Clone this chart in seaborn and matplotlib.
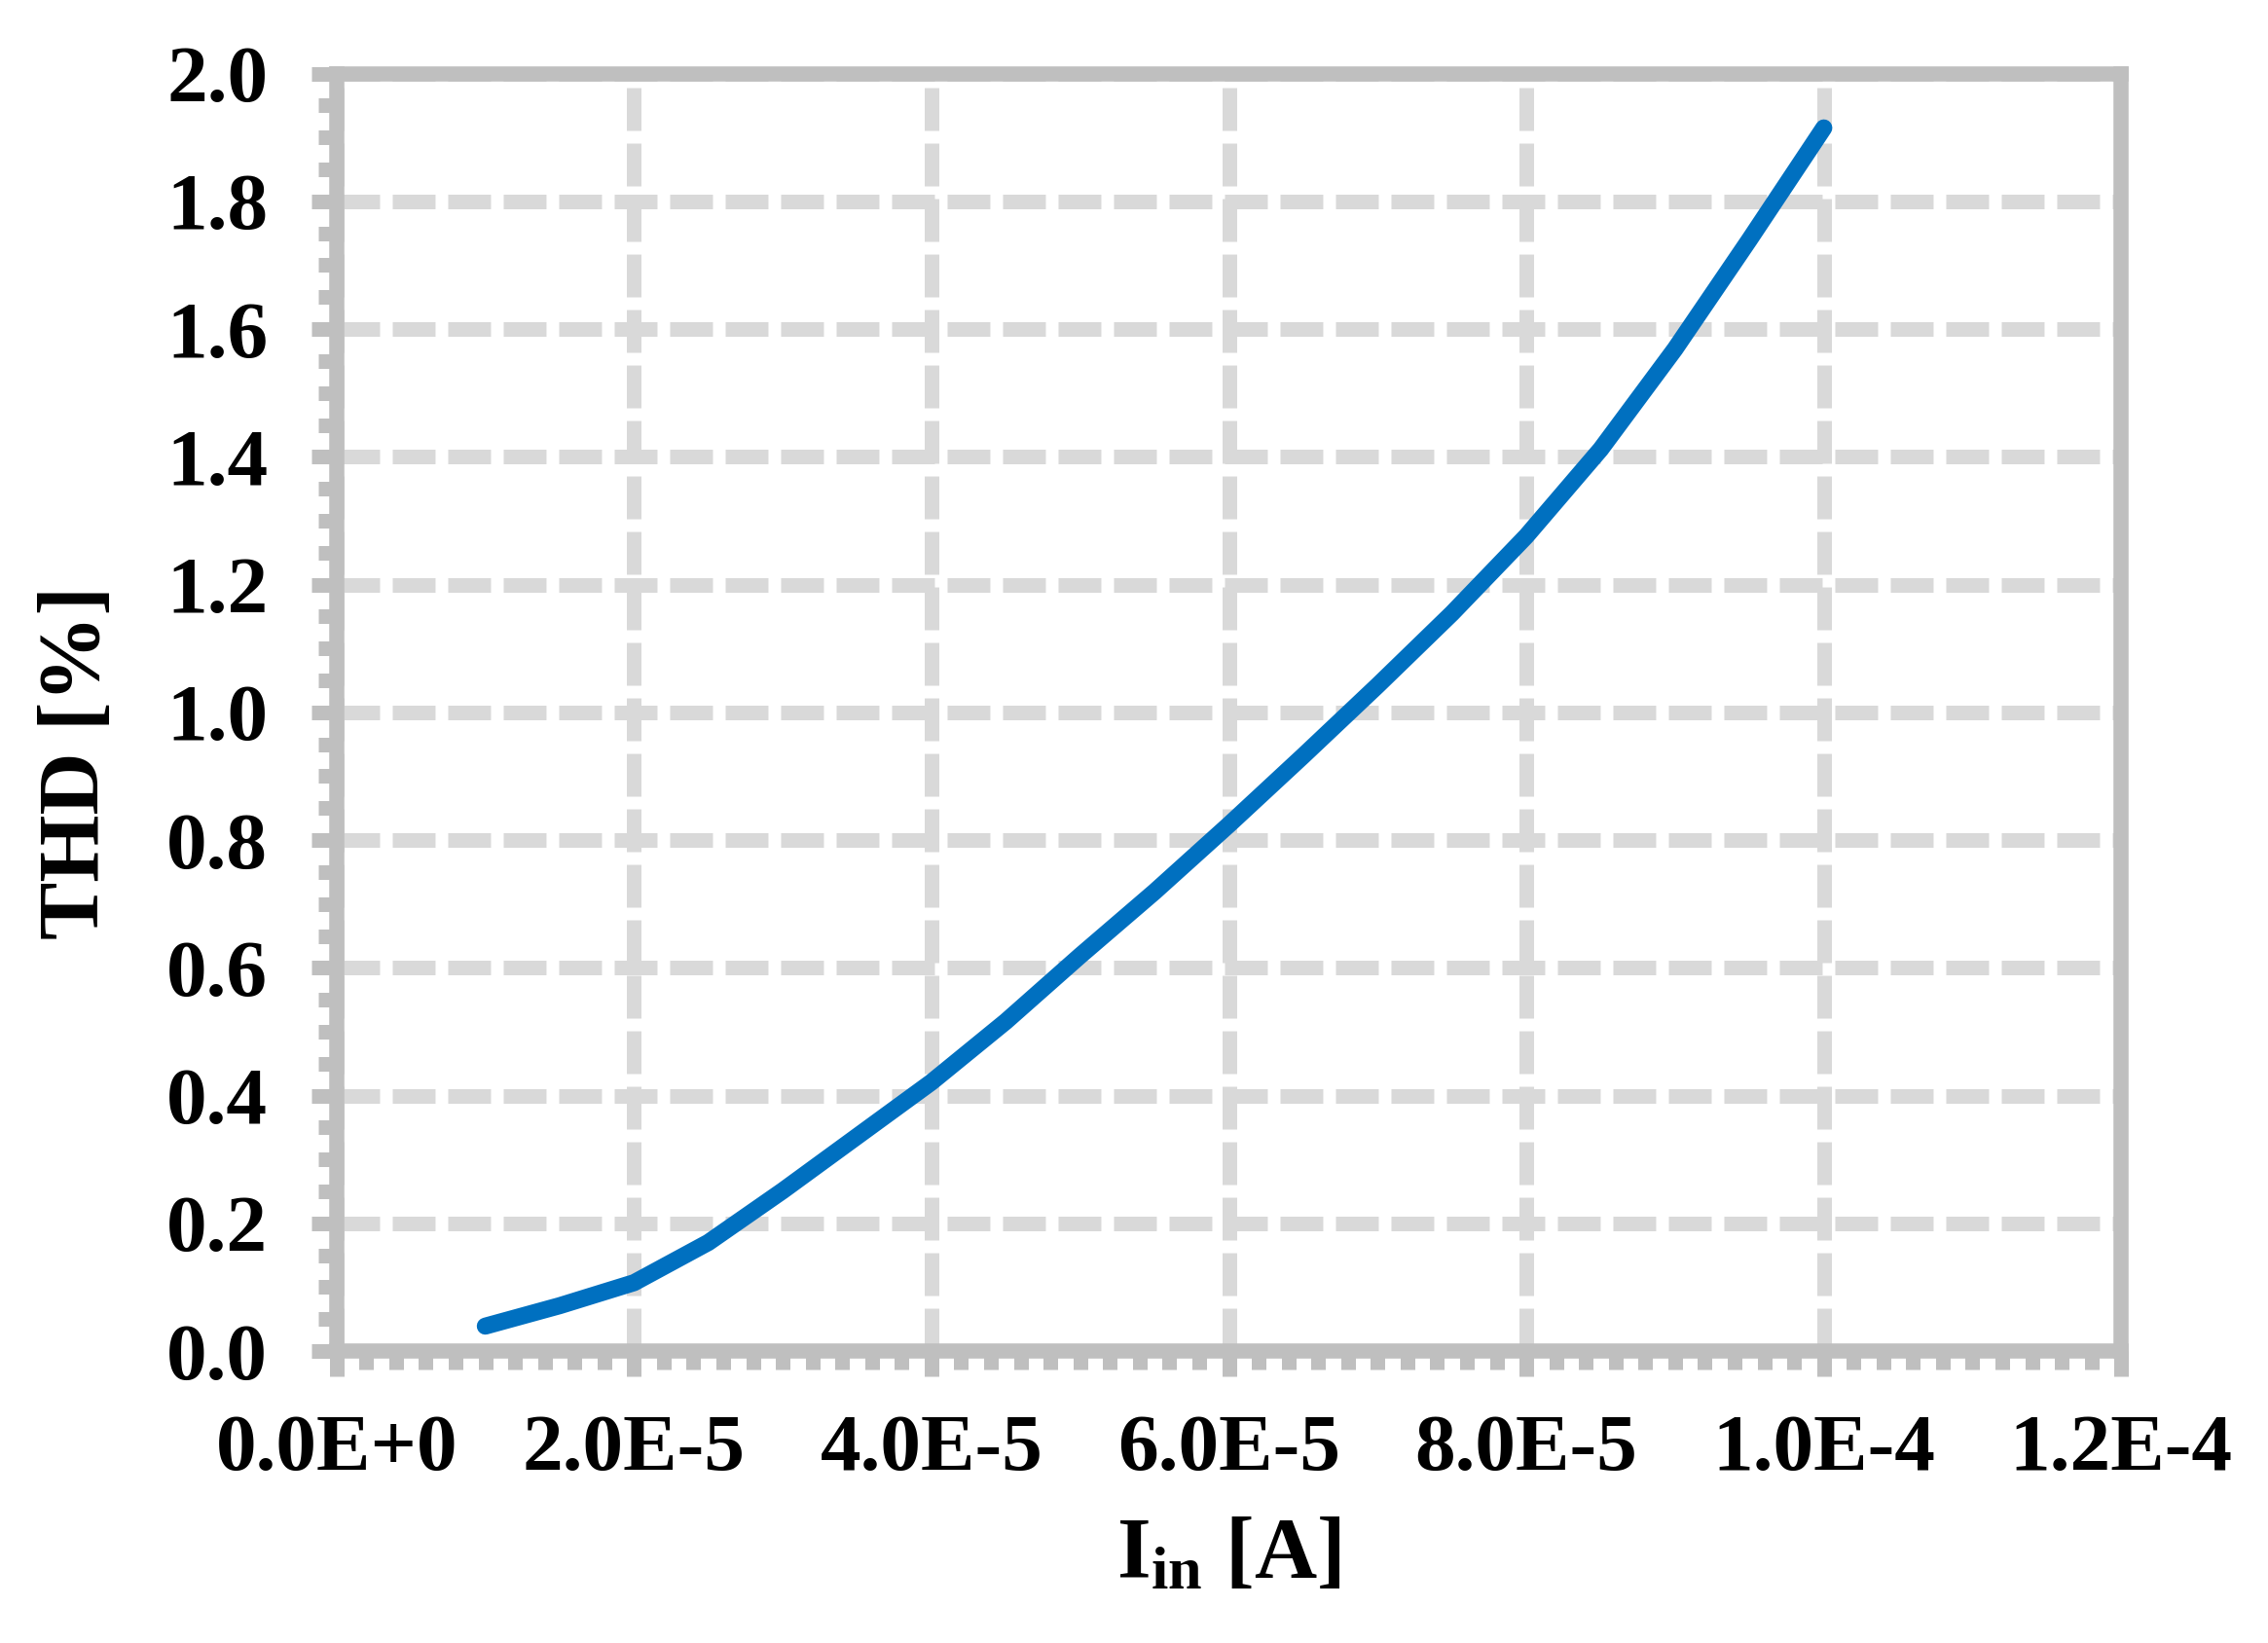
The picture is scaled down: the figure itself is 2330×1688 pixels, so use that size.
import matplotlib
matplotlib.use("Agg")
import matplotlib.pyplot as plt
import seaborn as sns
import pandas as pd
from matplotlib.ticker import MultipleLocator, FuncFormatter

# ---- data ----
i_in = [1.0e-5, 1.5e-5, 2.0e-5, 2.5e-5, 3.0e-5, 3.5e-5, 4.0e-5, 4.5e-5, 5.0e-5,
        5.5e-5, 6.0e-5, 6.5e-5, 7.0e-5, 7.5e-5, 8.0e-5, 8.5e-5, 9.0e-5, 9.5e-5, 1.0e-4]
thd = [0.039, 0.071, 0.107, 0.170, 0.251, 0.336, 0.421, 0.516, 0.619,
       0.719, 0.824, 0.932, 1.042, 1.155, 1.276, 1.412, 1.569, 1.740, 1.915]
x_label = r"$\mathrm{I_{in}}$ [A]"
y_label = "THD [%]"

sns.set_theme(style="white")
plt.rcParams["font.family"] = ["Liberation Serif", "DejaVu Serif"]
plt.rcParams["font.weight"] = "bold"
plt.rcParams["mathtext.fontset"] = "custom"
plt.rcParams["mathtext.rm"] = "Liberation Serif:bold"
plt.rcParams["mathtext.it"] = "Liberation Serif:bold"
plt.rcParams["mathtext.bf"] = "Liberation Serif:bold"
plt.rcParams["text.color"] = "black"
plt.rcParams["axes.labelcolor"] = "black"
plt.rcParams["xtick.labelcolor"] = "black"
plt.rcParams["ytick.labelcolor"] = "black"

DPI = 200
fig = plt.figure(figsize=(2330 / DPI, 1688 / DPI), dpi=DPI)
ax = fig.add_axes([0.1484, 0.1777, 0.9353 - 0.1484, 0.9552 - 0.1777])

df = pd.DataFrame({"x": i_in, "y": thd})
sns.lineplot(data=df, x="x", y="y", ax=ax, color="#0070C0", linewidth=6.3,
             solid_capstyle="round", solid_joinstyle="round", zorder=3)

ax.set_xlim(0, 1.2e-4)
ax.set_ylim(0, 2.0)
ax.xaxis.set_major_locator(MultipleLocator(2e-5))
ax.xaxis.set_minor_locator(MultipleLocator(2e-6))
ax.yaxis.set_major_locator(MultipleLocator(0.2))
ax.yaxis.set_minor_locator(MultipleLocator(0.05))


def xfmt(v, pos):
    m, e = f"{v:.1E}".split("E")
    return f"{m}E{int(e):+d}"


ax.xaxis.set_major_formatter(FuncFormatter(xfmt))
ax.yaxis.set_major_formatter(FuncFormatter(lambda v, p: f"{v:.1f}"))

spine_c = "#BFBFBF"
for s in ax.spines.values():
    s.set_color(spine_c)
    s.set_linewidth(5.6)
    s.set_visible(True)

ax.tick_params(which="major", direction="out", length=9.4, width=5.4, color=spine_c,
               labelsize=30, pad=14, bottom=True, left=True, labelcolor="black")
ax.tick_params(which="minor", direction="out", length=6.8, width=5.4, color=spine_c,
               bottom=True, left=True)
ax.tick_params(axis="y", which="major", pad=16)
for lab in ax.get_xticklabels() + ax.get_yticklabels():
    lab.set_fontweight("bold")
    lab.set_color("black")

ax.grid(True, which="major", color="#D9D9D9", linewidth=5.4,
        linestyle=(0, (2.93, 0.87)), zorder=0)
ax.set_axisbelow(True)

ax.set_xlabel(x_label, fontsize=32, fontweight="bold", color="black")
ax.set_ylabel(y_label, fontsize=32, fontweight="bold", color="black")
ax.xaxis.set_label_coords(0.5, -0.13)
ax.yaxis.set_label_coords(-0.123, 0.461)

fig.savefig("out.png", dpi=DPI, facecolor="white")
